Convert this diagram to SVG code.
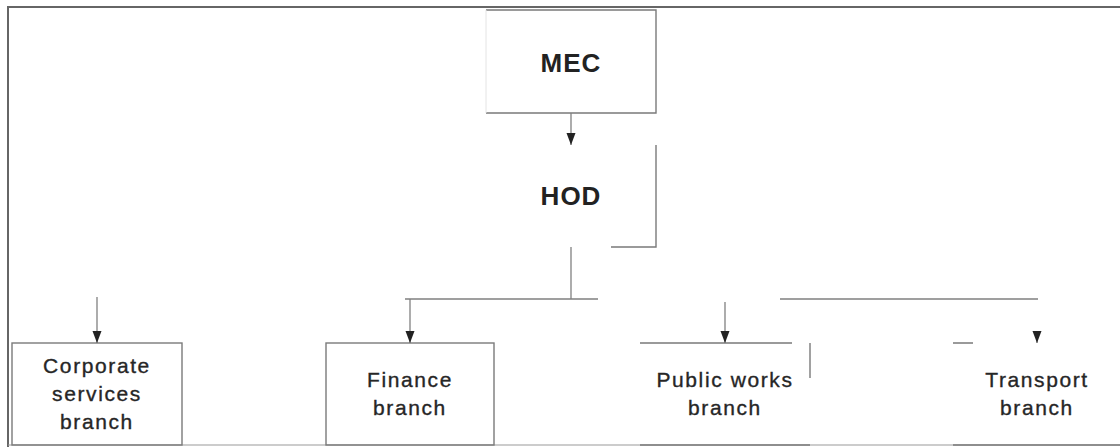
<svg xmlns="http://www.w3.org/2000/svg" width="1120" height="447" viewBox="0 0 1120 447">
  <style>
    .frame { fill: none; stroke: #666; stroke-width: 2; }
    .edge { fill: none; stroke: #7a7a7a; stroke-width: 1.4; }
    .wire { fill: none; stroke: #808080; stroke-width: 1.3; }
    .head { font-family: "Liberation Sans", Arial, sans-serif; font-size: 26px; font-weight: bold; fill: #222; text-anchor: middle; letter-spacing: 1px; }
    .lbl { font-family: "Liberation Sans", Arial, sans-serif; font-size: 21px; fill: #262626; stroke: #262626; stroke-width: 0.35; text-anchor: middle; letter-spacing: 1.6px; }
  </style>
  <defs>
    <marker id="tri" viewBox="0 0 12 10" refX="12" refY="5" markerWidth="12" markerHeight="10" markerUnits="userSpaceOnUse" orient="auto">
      <path d="M0,0.5 L12,5 L0,9.5 Z" fill="#222"/>
    </marker>
  </defs>

  <rect width="1120" height="447" fill="#ffffff"/>

  <!-- outer frame -->
  <path class="frame" d="M8,447 V7 H1120"/>
  <path d="M8,445 H1120" fill="none" stroke="#999" stroke-width="1.2"/>

  <g id="mec">
    <path class="edge" d="M486,10 H656 V113 H486"/>
    <path d="M486,10 V113" fill="none" stroke="#e4e4e4" stroke-width="1"/>
    <text class="head" x="571" y="72">MEC</text>
  </g>

  <g id="hod">
    <path class="edge" d="M656,145 V247 H611"/>
    <text class="head" x="571" y="205">HOD</text>
  </g>

  <g id="corporate">
    <rect class="edge" x="12" y="343" width="170" height="102"/>
    <text class="lbl" x="97" y="373">Corporate</text>
    <text class="lbl" x="97" y="401">services</text>
    <text class="lbl" x="97" y="429">branch</text>
  </g>

  <g id="finance">
    <rect class="edge" x="326" y="343" width="168" height="102"/>
    <text class="lbl" x="410" y="387">Finance</text>
    <text class="lbl" x="410" y="415">branch</text>
  </g>

  <g id="publicworks">
    <path class="edge" d="M640,343 H792 M810,343 V378 M640,445 H810"/>
    <text class="lbl" x="725" y="387">Public works</text>
    <text class="lbl" x="725" y="415">branch</text>
  </g>

  <g id="transport">
    <path class="edge" d="M953,343 H973 M953,445 H1120"/>
    <text class="lbl" x="1037" y="387">Transport</text>
    <text class="lbl" x="1037" y="415">branch</text>
  </g>

  <g id="connectors">
    <path class="wire" d="M571,113 V145" marker-end="url(#tri)"/>
    <path class="wire" d="M571,247 V299"/>
    <path class="wire" d="M405,299 H598 M780,299 H1038"/>
    <path class="wire" d="M97,297 V343" marker-end="url(#tri)"/>
    <path class="wire" d="M410,299 V343" marker-end="url(#tri)"/>
    <path class="wire" d="M725,302 V343" marker-end="url(#tri)"/>
    <path class="wire" d="M1037,331 V343" marker-end="url(#tri)"/>
  </g>
</svg>
